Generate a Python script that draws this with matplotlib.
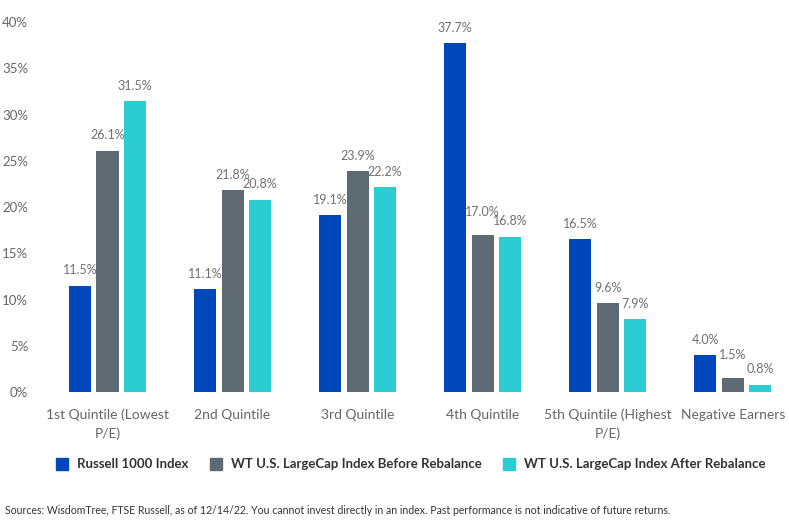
import numpy as np
import matplotlib
matplotlib.use("Agg")
import matplotlib.pyplot as plt
from matplotlib.lines import Line2D

categories = ["1st Quintile (Lowest\nP/E)", "2nd Quintile", "3rd Quintile",
              "4th Quintile", "5th Quintile (Highest\nP/E)", "Negative Earners"]
series_names = ["Russell 1000 Index",
                "WT U.S. LargeCap Index Before Rebalance",
                "WT U.S. LargeCap Index After Rebalance"]
russell = [11.5, 11.1, 19.1, 37.7, 16.5, 4.0]
before = [26.1, 21.8, 23.9, 17.0, 9.6, 1.5]
after = [31.5, 20.8, 22.2, 16.8, 7.9, 0.8]
yticks = [0, 5, 10, 15, 20, 25, 30, 35, 40]

COLORS = ["#0047BB", "#5E6A71", "#2CCCD3"]

plt.rcParams["font.family"] = ["Lato", "DejaVu Sans"]

fig = plt.figure(figsize=(7.89, 5.29), dpi=100)
ax = fig.add_axes([0.057, 0.259, 0.943, 0.699])

x = np.arange(len(categories))
width = 0.176
offsets = [-0.22, 0.0, 0.22]
all_series = [russell, before, after]
for k, (vals, off, col) in enumerate(zip(all_series, offsets, COLORS)):
    bars = ax.bar(x + off, vals, width=width, color=col, zorder=3)
    for i, (b, v) in enumerate(zip(bars, vals)):
        lift = 1.0
        # nudge a label up when the next bar in the group is nearly as tall
        if k < 2 and abs(all_series[k + 1][i] - v) < 1.0:
            lift += 0.8
        ax.text(b.get_x() + b.get_width() / 2, v + lift, f"{v:.1f}%",
                ha="center", va="bottom", fontsize=9, color="#707070",
                clip_on=False)

ax.set_xlim(-0.5, 5.45)
ax.set_ylim(0, 40)
ax.set_yticks(yticks)
ax.set_yticklabels([f"{t}%" for t in yticks], fontsize=9.5, color="#666666")
ax.set_xticks(x)
ax.set_xticklabels(categories, fontsize=10, color="#666666", linespacing=1.6)
ax.tick_params(length=0, pad=12, axis="x")
ax.tick_params(length=0, pad=12, axis="y")
for s in ax.spines.values():
    s.set_visible(False)

handles = [Line2D([0], [0], marker="s", linestyle="none", markersize=8,
                  markerfacecolor=c, markeredgecolor=c) for c in COLORS]
fig.legend(handles, series_names, loc="center", bbox_to_anchor=(0.516, 0.122),
           ncol=3, frameon=False, handletextpad=0.1, columnspacing=1.1,
           prop={"weight": "bold", "size": 9.5}, labelcolor="#333333")

fig.text(0.006, 0.035, "Sources: WisdomTree, FTSE Russell, as of 12/14/22. You cannot invest "
         "directly in an index. Past performance is not indicative of future returns.",
         fontsize=7.6, color="#333333", ha="left", va="center")

fig.savefig("out.png", dpi=100)
